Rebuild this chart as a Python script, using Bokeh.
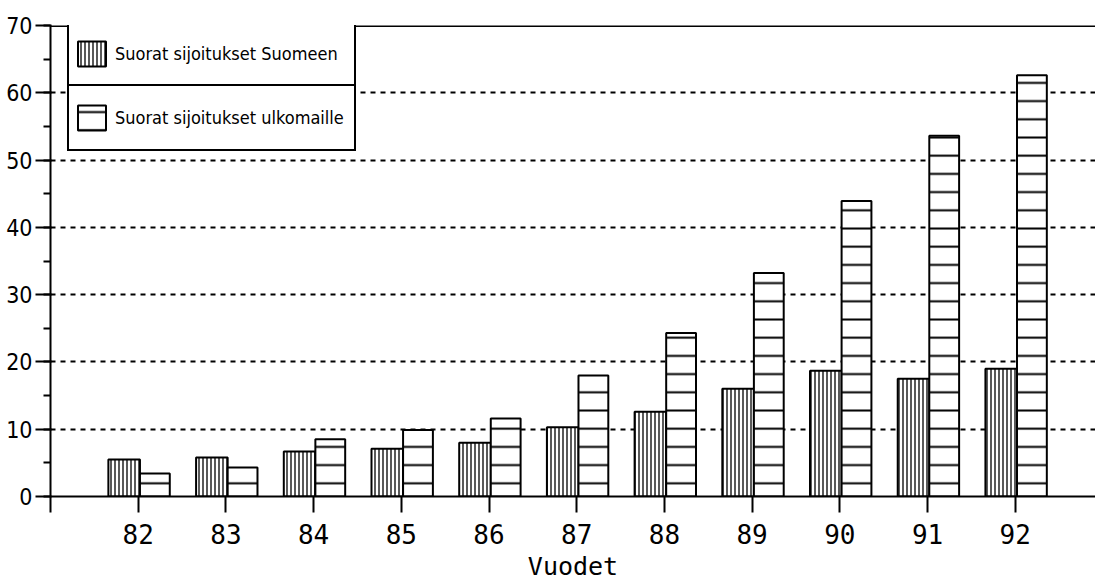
from bokeh.plotting import figure
from bokeh.models import (Range1d, FixedTicker, SingleIntervalTicker, ColumnDataSource,
                          Legend, LegendItem, Span)
from bokeh.transform import dodge
from bokeh.embed import file_html
from bokeh.resources import INLINE

# ---- data ----
years = [82, 83, 84, 85, 86, 87, 88, 89, 90, 91, 92]
year_labels = ["82", "83", "84", "85", "86", "87", "88", "89", "90", "91", "92"]
suomeen = [5.5, 5.8, 6.7, 7.1, 8.0, 10.3, 12.6, 16.0, 18.7, 17.5, 19.0]
ulkomaille = [3.4, 4.3, 8.5, 9.9, 11.6, 18.0, 24.3, 33.2, 43.9, 53.6, 62.6]
series_names = ["Suorat sijoitukset Suomeen", "Suorat sijoitukset ulkomaille"]
x_title = "Vuodet"

NARROW = "'DejaVu Sans Condensed', Roboto, sans-serif"
MONO = "DejaVu Sans Mono"

W, H = 1095, 583
TOP, BOTTOM, LEFT = 25, 86, 50
FRAME_BOTTOM = H - BOTTOM

source = ColumnDataSource(dict(year=years, suomeen=suomeen, ulkomaille=ulkomaille))

p = figure(width=W, height=H, output_backend="svg", toolbar_location=None,
           x_range=Range1d(81, 92.915), y_range=Range1d(0, 70),
           min_border_left=LEFT, min_border_top=TOP, min_border_right=0,
           min_border_bottom=BOTTOM)
p.outline_line_color = None
p.background_fill_color = "white"
p.border_fill_color = "white"

r1 = p.vbar(x=dodge("year", -0.16, range=p.x_range), top="suomeen", width=0.36,
            source=source, fill_color="white", line_color="black", line_width=2,
            hatch_pattern="|", hatch_scale=4, hatch_weight=1.3, hatch_color="black")
r2 = p.vbar(x=dodge("year", 0.19, range=p.x_range), top="ulkomaille", width=0.34,
            source=source, fill_color="white", line_color="black", line_width=2,
            hatch_pattern="-", hatch_scale=18.2, hatch_weight=2, hatch_color="black")

# x axis
xa = p.xaxis[0]
xa.ticker = FixedTicker(ticks=[81] + years)
overrides = {81: ""}
for yv, lab in zip(years, year_labels):
    overrides[yv] = lab
xa.major_label_overrides = overrides
xa.axis_line_width = 2
xa.axis_line_color = "black"
xa.major_tick_line_width = 2
xa.major_tick_line_color = "black"
xa.major_tick_out = 16
xa.major_tick_in = 0
xa.major_label_text_font = MONO
xa.major_label_text_font_size = "26px"
xa.major_label_text_color = "black"
xa.major_label_standoff = 11
xa.axis_label = x_title
xa.axis_label_text_font = MONO
xa.axis_label_text_font_size = "25px"
xa.axis_label_text_font_style = "normal"
xa.axis_label_text_color = "black"
xa.axis_label_standoff = 5

# y axis
ya = p.yaxis[0]
ya.ticker = SingleIntervalTicker(interval=10, num_minor_ticks=2)
ya.axis_line_width = 2
ya.axis_line_color = "black"
ya.major_tick_line_width = 2
ya.major_tick_line_color = "black"
ya.major_tick_out = 15
ya.major_tick_in = 1
ya.minor_tick_line_width = 2
ya.minor_tick_line_color = "black"
ya.minor_tick_out = 7
ya.minor_tick_in = 0
ya.major_label_text_font = NARROW
ya.major_label_text_font_size = "23px"
ya.major_label_text_color = "black"
ya.major_label_standoff = 3

# grid
p.xgrid.visible = False
p.ygrid.grid_line_color = "black"
p.ygrid.grid_line_width = 2
p.ygrid.grid_line_dash = "5 5"

# top frame line
p.add_layout(Span(location=70, dimension="width", line_color="black", line_width=3))

# legends (two stacked boxes)
def make_legend(label, rend, bottom_y):
    leg = Legend(items=[LegendItem(label=label, renderers=[rend])],
                 location=(17, FRAME_BOTTOM - bottom_y),
                 orientation="vertical", margin=0, padding=5, spacing=0,
                 glyph_width=35, glyph_height=31, label_standoff=6,
                 label_width=234, label_height=53,
                 label_text_font=NARROW, label_text_font_size="18px",
                 label_text_color="black",
                 border_line_color="black", border_line_width=2, border_line_alpha=1,
                 background_fill_color="white", background_fill_alpha=1)
    return leg

p.add_layout(make_legend(series_names[0], r1, 88))
p.add_layout(make_legend(series_names[1], r2, 152))

open("out.html", "w").write(file_html(p, INLINE))
